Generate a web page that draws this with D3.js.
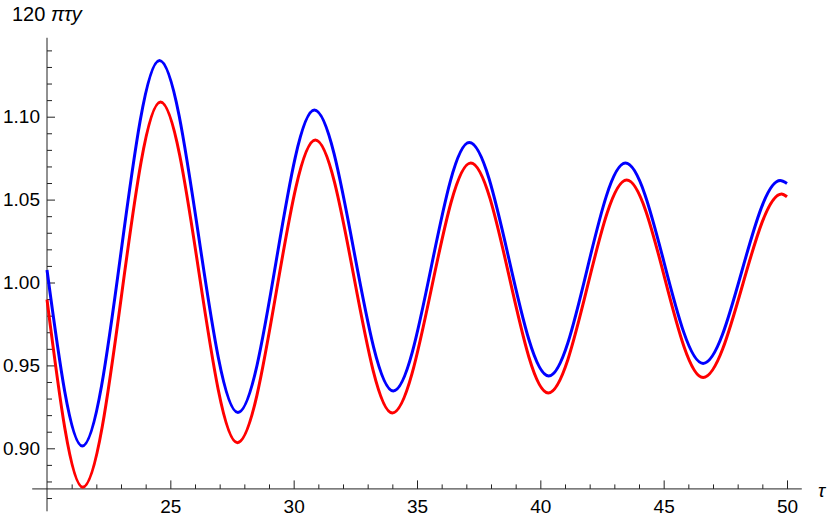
<!DOCTYPE html>
<html>
<head>
<meta charset="utf-8">
<script src="https://cdn.jsdelivr.net/npm/d3@7"></script>
<style>
  html, body { margin: 0; padding: 0; background: #fff; }
  svg { display: block; font-family: "Liberation Sans", Arial, sans-serif; }
</style>
</head>
<body>
<svg id="chart" width="830" height="521"></svg>
<script>
// ---- data ----
const blueTau = [20.00, 21.43, 24.56, 27.74, 30.84, 34.04, 37.12, 40.34, 43.45, 46.60, 49.72, 50.00];
const blueVal = [1.0075, 0.9014, 1.1339, 0.9216, 1.1040, 0.9346, 1.0844, 0.9436, 1.0720, 0.9512, 1.0615, 1.0597];
const redTau  = [20.00, 21.45, 24.60, 27.72, 30.88, 34.00, 37.18, 40.32, 43.50, 46.60, 49.78, 50.00];
const redVal  = [0.9897, 0.8765, 1.1088, 0.9034, 1.0859, 0.9213, 1.0721, 0.9334, 1.0618, 0.9427, 1.0534, 1.0517];

const xMajorTicks = [25, 30, 35, 40, 45, 50];
const xMinorTicks = [21,22,23,24,26,27,28,29,31,32,33,34,36,37,38,39,41,42,43,44,46,47,48,49];
const yMajorTicks = [0.90, 0.95, 1.00, 1.05, 1.10];
const yTickLabels = ["0.90", "0.95", "1.00", "1.05", "1.10"];
const yMinorTicks = [0.87,0.88,0.89,0.91,0.92,0.93,0.94,0.96,0.97,0.98,0.99,1.01,1.02,1.03,1.04,1.06,1.07,1.08,1.09,1.11,1.12,1.13,1.14];
const yAxisLabel = "120 ";
const yAxisLabelItalic = "πτy";
const xAxisLabel = "τ";

// axis crossing / extents
const xAxisAt = 0.8755;   // y value where the horizontal axis sits
const yAxisAt = 20;       // tau where the vertical axis sits
const xAxisExtent = [19.4, 50.6];
const yAxisExtent = [0.862, 1.1476];

// ---- scales ----
const x = d3.scaleLinear().domain([20, 50]).range([47, 787]);
const y = d3.scaleLinear().domain([0.90, 1.10]).range([448.3, 116.7]);

const svg = d3.select("#chart");
const axisColor = "#222";
const fontSize = 19;

// horizontal axis
const gx = svg.append("g").attr("transform", `translate(0,${y(xAxisAt)})`);
gx.append("line")
  .attr("x1", x(xAxisExtent[0])).attr("x2", x(xAxisExtent[1]))
  .attr("stroke", axisColor).attr("stroke-width", 1);
gx.append("g").call(d3.axisBottom(x).tickValues(xMinorTicks).tickSize(-4.5).tickSizeOuter(0).tickFormat(""))
  .call(g => g.select(".domain").remove())
  .call(g => g.selectAll("line").attr("stroke", axisColor));
gx.append("g").call(d3.axisBottom(x).tickValues(xMajorTicks).tickSize(-8.5).tickSizeOuter(0).tickPadding(11).tickFormat(d3.format("d")))
  .call(g => g.select(".domain").remove())
  .call(g => g.selectAll("line").attr("stroke", axisColor))
  .call(g => g.selectAll("text").attr("font-size", fontSize).attr("fill", "#000")
      .attr("font-family", "'Liberation Sans', Arial, sans-serif"));

// vertical axis
const gy = svg.append("g").attr("transform", `translate(${x(yAxisAt)},0)`);
gy.append("line")
  .attr("y1", y(yAxisExtent[0])).attr("y2", y(yAxisExtent[1]))
  .attr("stroke", axisColor).attr("stroke-width", 1);
gy.append("g").call(d3.axisLeft(y).tickValues(yMinorTicks).tickSize(-5).tickSizeOuter(0).tickFormat(""))
  .call(g => g.select(".domain").remove())
  .call(g => g.selectAll("line").attr("stroke", axisColor));
gy.append("g").call(d3.axisLeft(y).tickValues(yMajorTicks).tickSize(-8).tickSizeOuter(0).tickPadding(7)
      .tickFormat((d, i) => yTickLabels[i]))
  .call(g => g.select(".domain").remove())
  .call(g => g.selectAll("line").attr("stroke", axisColor))
  .call(g => g.selectAll("text").attr("font-size", fontSize).attr("fill", "#000")
      .attr("font-family", "'Liberation Sans', Arial, sans-serif"));

// axis labels
const yl = svg.append("text")
  .attr("x", 12).attr("y", 21)
  .attr("font-size", fontSize + 1).attr("fill", "#000");
yl.append("tspan").text(yAxisLabel);
yl.append("tspan").attr("font-style", "italic").text(yAxisLabelItalic);

svg.append("text")
  .attr("x", 818).attr("y", 497)
  .attr("font-size", fontSize).attr("font-style", "italic").attr("fill", "#000")
  .text(xAxisLabel);

// curves
const line = d3.line().x(d => x(d[0])).y(d => y(d[1])).curve(d3.curveMonotoneX);
const redData = redTau.map((t, i) => [t, redVal[i]]);
const blueData = blueTau.map((t, i) => [t, blueVal[i]]);

svg.append("path").datum(redData).attr("d", line)
  .attr("fill", "none").attr("stroke", "#ff0000").attr("stroke-width", 3);
svg.append("path").datum(blueData).attr("d", line)
  .attr("fill", "none").attr("stroke", "#0000ff").attr("stroke-width", 3);
</script>
</body>
</html>
